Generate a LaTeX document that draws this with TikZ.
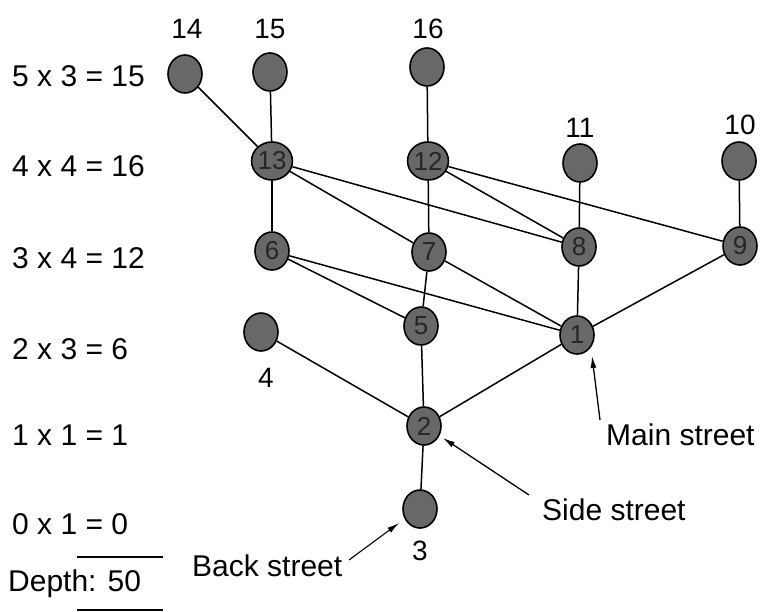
\documentclass[tikz,border=0pt]{standalone}
\usepackage{fontspec}
\setmainfont{Liberation Sans}
\usetikzlibrary{shapes.geometric,arrows.meta}
\definecolor{nodegray}{HTML}{686868}
\begin{document}
\begin{tikzpicture}[x=1pt,y=-1pt,
  vtx/.style={ellipse,draw=black,line width=1.6pt,fill=nodegray,minimum width=34pt,minimum height=38pt,inner sep=0pt,
    font=\fontsize{26}{26}\selectfont,text=black!85},
  numlab/.style={font=\fontsize{28}{28}\selectfont,inner sep=0pt},
  rowlab/.style={font=\fontsize{30}{30}\selectfont,anchor=west,inner sep=0pt},
  streetlab/.style={font=\fontsize{30}{30}\selectfont,anchor=west,inner sep=0pt},
  edge/.style={line width=1.5pt,black},
  pointer/.style={line width=1.3pt,-{Latex[length=12pt,width=6pt]}}]
\useasboundingbox (0,0) rectangle (770,612);
\fill[white] (0,0) rectangle (770,612);

% row labels
\node[rowlab] (r5) at (12,76) {5 x 3 = 15};
\node[rowlab] (r4) at (12,166) {4 x 4 = 16};
\node[rowlab] (r3) at (12,258) {3 x 4 = 12};
\node[rowlab] (r2) at (12,349) {2 x 3 = 6};
\node[rowlab] (r1) at (12,435) {1 x 1 = 1};
\node[rowlab] (r0) at (12,524) {0 x 1 = 0};
\coordinate (l1a) at (77,557); \coordinate (l1b) at (163,557);
\draw[line width=1.6pt] (l1a) -- (l1b);
\node[rowlab] (depth) at (8,584) {Depth: 50};
\coordinate (l2a) at (77,610); \coordinate (l2b) at (163,610);
\draw[line width=1.6pt] (l2a) -- (l2b);

% vertices
\node[vtx] (n14) at (185,74) {};
\node[vtx] (n15) at (270,72) {};
\node[vtx] (n16) at (427,67) {};
\node[vtx] (n13) at (272,161) {13};
\node[vtx] (n12) at (428,161) {12};
\node[vtx] (n11) at (580,163) {};
\node[vtx] (n10) at (739,161) {};
\node[vtx] (n6) at (272,251) {6};
\node[vtx] (n7) at (429,252) {7};
\node[vtx] (n8) at (579,247) {8};
\node[vtx] (n9) at (740,246) {9};
\node[vtx] (n4) at (261,332) {};
\node[vtx] (n5) at (421,326) {5};
\node[vtx] (n1) at (577,335) {1};
\node[vtx] (n2) at (424,426) {2};
\node[vtx] (n3) at (420,509) {};

% outside number labels
\node[numlab] (t14) at (187,29) {14};
\node[numlab] (t15) at (270,29) {15};
\node[numlab] (t16) at (428,29) {16};
\node[numlab] (t11) at (580,128) {11};
\node[numlab] (t10) at (740,125) {10};
\node[numlab] (t4) at (266,378) {4};
\node[numlab] (t3) at (420,551) {3};

% edges
\draw[edge] (n14) -- (n13);
\draw[edge] (n15) -- (n13);
\draw[edge] (n16) -- (n12);
\draw[edge] (n11) -- (n8);
\draw[edge] (n10) -- (n9);
\draw[edge] (n13) -- (n6);
\draw[edge] (n13) -- (n7);
\draw[edge] (n13) -- (n8);
\draw[edge] (n12) -- (n7);
\draw[edge] (n12) -- (n8);
\draw[edge] (n12) -- (n9);
\draw[edge] (n6) -- (n5);
\draw[edge] (n6) -- (n1);
\draw[edge] (n7) -- (n5);
\draw[edge] (n7) -- (n1);
\draw[edge] (n8) -- (n1);
\draw[edge] (n9) -- (n1);
\draw[edge] (n5) -- (n2);
\draw[edge] (n1) -- (n2);
\draw[edge] (n4) -- (n2);
\draw[edge] (n2) -- (n3);

% street annotations
\node[streetlab] (main) at (606,435) {Main street};
\node[streetlab] (side) at (542,510) {Side street};
\node[streetlab] (back) at (192,566) {Back street};
\coordinate (mainS) at (600,420); \coordinate (mainE) at (592,356);
\coordinate (sideS) at (529,495); \coordinate (sideE) at (443,438);
\coordinate (backS) at (349,560); \coordinate (backE) at (399,523);
\draw[pointer] (mainS) -- (mainE);
\draw[pointer] (sideS) -- (sideE);
\draw[pointer,line width=1.1pt] (backS) -- (backE);
\end{tikzpicture}
\end{document}
